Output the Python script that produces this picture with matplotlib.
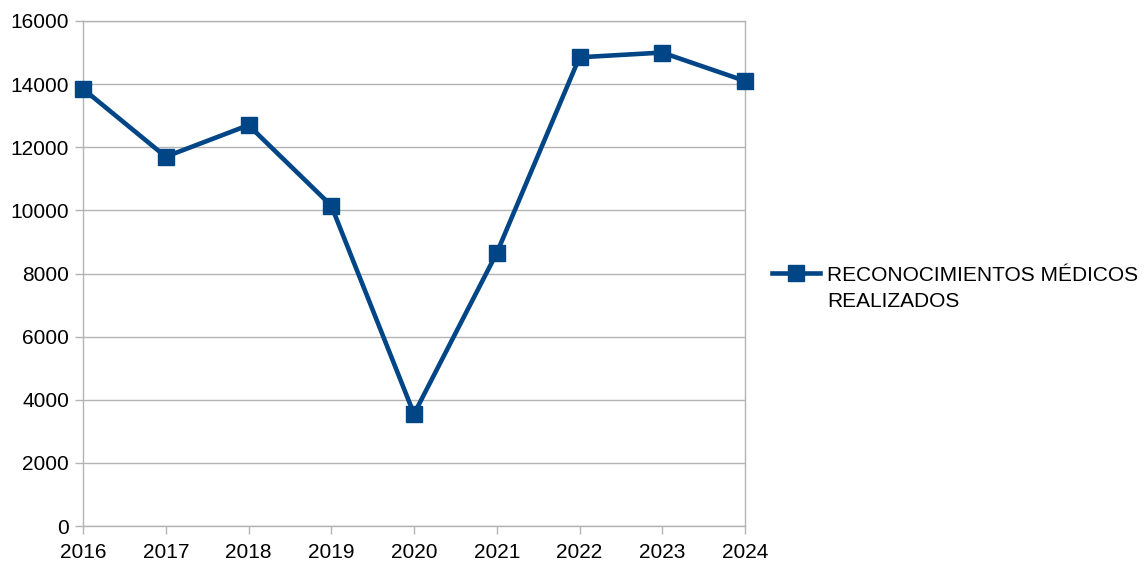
import matplotlib
matplotlib.use("Agg")
import matplotlib.pyplot as plt
from matplotlib.lines import Line2D

years = [2016, 2017, 2018, 2019, 2020, 2021, 2022, 2023, 2024]
values = [13850, 11700, 12700, 10150, 3550, 8650, 14850, 15000, 14100]
series_label = "RECONOCIMIENTOS MÉDICOS\nREALIZADOS"
yticks = [0, 2000, 4000, 6000, 8000, 10000, 12000, 14000, 16000]

plt.rcParams['font.family'] = ['Liberation Sans', 'DejaVu Sans']
color = "#004586"
grid_c = "#b3b3b3"

fig = plt.figure(figsize=(11.45, 5.68), dpi=100)
ax = fig.add_axes([83/1145, 1-526/568, (745-83)/1145, (526-21)/568])

ax.plot(years, values, color=color, lw=3.3, marker='s', ms=12,
        clip_on=False, zorder=3)

ax.set_xlim(2016, 2024)
ax.set_ylim(0, 16000)
ax.set_xticks(years)
ax.set_xticklabels([str(y) for y in years])
ax.set_yticks(yticks)
ax.grid(axis='y', color=grid_c, lw=1)
ax.set_axisbelow(True)
for s in ax.spines.values():
    s.set_color(grid_c)
    s.set_linewidth(1)
ax.tick_params(axis='both', colors=grid_c, length=6, width=1,
               labelcolor='black', labelsize=15)
ax.tick_params(axis='x', pad=6)
ax.tick_params(axis='y', pad=4)

# legend
fig.add_artist(Line2D([772/1145, 820/1145], [1-273/568, 1-273/568],
                      transform=fig.transFigure, color=color, lw=3.3))
fig.add_artist(Line2D([796/1145], [1-273/568], transform=fig.transFigure,
                      color=color, marker='s', ms=11, lw=0))
fig.text(827/1145, 1-266/568, series_label, ha='left', va='top',
         fontsize=15, linespacing=1.5)

fig.savefig("out.png", dpi=100)
